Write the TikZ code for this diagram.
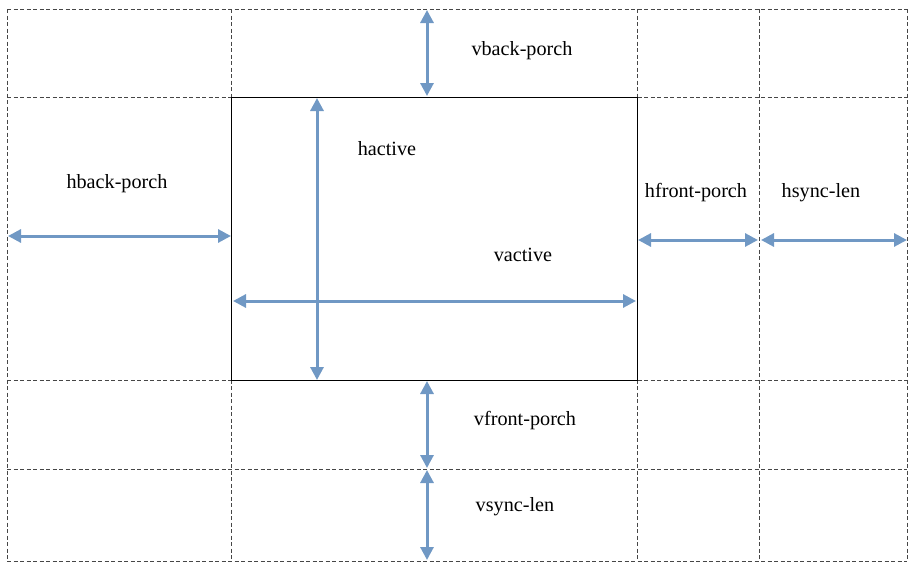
\documentclass[tikz,border=0pt]{standalone}
\usepackage{fontspec}
\setmainfont{Liberation Serif}
\usetikzlibrary{arrows.meta}
\definecolor{arrowc}{RGB}{112,152,196}
\definecolor{gridc}{RGB}{70,70,70}
\tikzset{
  gridline/.style={draw=gridc, line width=0.9pt, dash pattern=on 4pt off 2.5pt},
  activebox/.style={draw=black, line width=0.8pt, fill=white},
  dimarrow/.style={draw=arrowc, line width=3pt, {Triangle[length=13pt,width=13pt]}-{Triangle[length=13pt,width=13pt]}},
  lbl/.style={font=\fontsize{20.2}{23}\selectfont, anchor=base, inner sep=0pt}
}
\begin{document}
\begin{tikzpicture}[x=1pt,y=-1pt]
\useasboundingbox (0,0) rectangle (916,570);
% grid
\foreach \yy in {9,97,380,469,561} \draw[gridline] (7,\yy) -- (907,\yy);
\foreach \xx in {7,231,637,759,907} \draw[gridline] (\xx,9) -- (\xx,561);
\draw[activebox] (231,97) rectangle (637,380);
% coordinates
\coordinate (vbA) at (427,10);  \coordinate (vbB) at (427,96);
\coordinate (haA) at (317,98);  \coordinate (haB) at (317,380);
\coordinate (vaA) at (233,301); \coordinate (vaB) at (636,301);
\coordinate (hbA) at (8,236);   \coordinate (hbB) at (231,236);
\coordinate (hfA) at (638,240); \coordinate (hfB) at (758,240);
\coordinate (hsA) at (761,240); \coordinate (hsB) at (907,240);
\coordinate (vfA) at (427,381); \coordinate (vfB) at (427,468);
\coordinate (vsA) at (427,470); \coordinate (vsB) at (427,560);
% arrows
\draw[dimarrow] (vbA) -- (vbB);
\draw[dimarrow] (haA) -- (haB);
\draw[dimarrow] (vaA) -- (vaB);
\draw[dimarrow] (hbA) -- (hbB);
\draw[dimarrow] (hfA) -- (hfB);
\draw[dimarrow] (hsA) -- (hsB);
\draw[dimarrow] (vfA) -- (vfB);
\draw[dimarrow] (vsA) -- (vsB);
% labels
\node[lbl] (tvb) at (522,55) {vback-porch};
\node[lbl] (tha) at (387,155) {hactive};
\node[lbl] (thb) at (117,188) {hback-porch};
\node[lbl] (thf) at (696,197) {hfront-porch};
\node[lbl] (ths) at (821,197) {hsync-len};
\node[lbl] (tva) at (523,261) {vactive};
\node[lbl] (tvf) at (525,425) {vfront-porch};
\node[lbl] (tvs) at (515,511) {vsync-len};
\end{tikzpicture}
\end{document}
